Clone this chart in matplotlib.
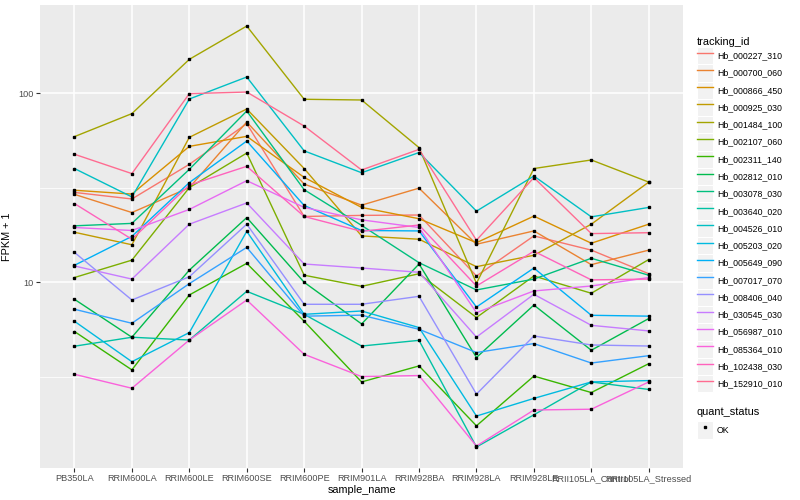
import numpy as np
import matplotlib
matplotlib.use("Agg")
import matplotlib.pyplot as plt
from matplotlib.lines import Line2D
from matplotlib.patches import Rectangle

plt.rcParams['font.family'] = ['Liberation Sans', 'DejaVu Sans']

samples = ['PB350LA', 'RRIM600LA', 'RRIM600LE', 'RRIM600SE', 'RRIM600PE', 'RRIM901LA',
           'RRIM928BA', 'RRIM928LA', 'RRIM928LE', 'RRII105LA_Control', 'RRII105LA_Stressed']

tracking_ids = ['Hb_000227_310', 'Hb_000700_060', 'Hb_000866_450', 'Hb_000925_030',
                'Hb_001484_100', 'Hb_002107_060', 'Hb_002311_140', 'Hb_002812_010',
                'Hb_003078_030', 'Hb_003640_020', 'Hb_004526_010', 'Hb_005203_020',
                'Hb_005649_090', 'Hb_007017_070', 'Hb_008406_040', 'Hb_030545_030',
                'Hb_056987_010', 'Hb_085364_010', 'Hb_102438_030', 'Hb_152910_010']

# ggplot default hue palette for 20 levels
colors = ['#F8766D', '#EA8331', '#D89000', '#C09B00', '#A3A500', '#7CAE00', '#39B600',
          '#00BB4E', '#00BF7D', '#00C1A3', '#00BFC4', '#00BAE0', '#00B0F6', '#35A2FF',
          '#9590FF', '#C77CFF', '#E76BF3', '#FA62DB', '#FF62BC', '#FF6C91']

# FPKM + 1, one list per tracking id, in sample order
hb_000227_310 = [29.9, 27.6, 42.1, 69.1, 22.3, 22.6, 22.7, 10.8, 17.6, 14.8, 11.1]
hb_000700_060 = [29.2, 23.4, 31.7, 70.5, 33.1, 25.6, 31.5, 15.9, 18.7, 12.4, 14.8]
hb_000866_450 = [30.7, 29.3, 52.4, 59.2, 35.9, 24.9, 21.7, 16.2, 22.4, 16.1, 20.3]
hb_000925_030 = [18.4, 15.8, 58.5, 82.6, 40.0, 17.6, 16.9, 12.1, 13.9, 20.3, 33.9]
hb_001484_100 = [59.0, 78.1, 151.3, 227.0, 93.0, 92.2, 51.6, 9.88, 40.0, 44.4, 33.9]
hb_002107_060 = [10.6, 13.1, 31.7, 48.3, 10.9, 9.52, 11.1, 6.51, 10.8, 8.75, 13.2]
hb_002311_140 = [5.49, 3.44, 8.57, 12.6, 6.22, 2.97, 3.61, 1.74, 3.19, 2.61, 3.71]
hb_002812_010 = [8.13, 5.12, 11.6, 22.0, 10.0, 6.02, 12.5, 4.00, 7.58, 4.37, 6.43]
hb_003078_030 = [19.9, 20.5, 39.6, 80.6, 30.9, 20.0, 12.7, 9.11, 10.4, 13.4, 10.9]
hb_003640_020 = [4.59, 5.12, 4.95, 8.96, 6.77, 4.60, 4.93, 1.345, 1.99, 2.97, 2.71]
hb_004526_010 = [40.0, 28.3, 93.3, 122.0, 49.6, 38.0, 48.6, 23.8, 36.5, 22.2, 24.9]
hb_005203_020 = [6.22, 3.80, 5.42, 18.6, 6.77, 7.05, 5.76, 1.96, 2.43, 2.97, 3.02]
hb_005649_090 = [12.3, 17.5, 33.7, 55.9, 25.5, 18.8, 18.7, 7.40, 11.9, 6.69, 6.62]
hb_007017_070 = [7.20, 6.07, 9.84, 15.3, 6.62, 6.70, 5.64, 4.25, 4.74, 3.74, 4.09]
hb_008406_040 = [14.4, 8.06, 10.7, 20.3, 7.65, 7.65, 8.43, 2.56, 5.20, 4.66, 4.60]
hb_030545_030 = [12.2, 10.4, 20.3, 26.3, 12.5, 11.9, 11.3, 5.13, 8.64, 5.92, 5.53]
hb_056987_010 = [19.5, 18.8, 24.3, 34.5, 24.9, 21.4, 19.5, 6.91, 9.00, 9.56, 10.6]
hb_085364_010 = [3.26, 2.75, 4.95, 8.06, 4.16, 3.17, 3.21, 1.36, 2.11, 2.13, 2.97]
hb_102438_030 = [26.1, 16.9, 32.7, 41.1, 22.3, 18.6, 20.1, 9.56, 14.6, 10.3, 10.4]
hb_152910_010 = [47.6, 37.6, 99.6, 101.6, 67.1, 39.3, 50.5, 16.7, 35.8, 18.1, 18.3]

series = [hb_000227_310, hb_000700_060, hb_000866_450, hb_000925_030, hb_001484_100,
          hb_002107_060, hb_002311_140, hb_002812_010, hb_003078_030, hb_003640_020,
          hb_004526_010, hb_005203_020, hb_005649_090, hb_007017_070, hb_008406_040,
          hb_030545_030, hb_056987_010, hb_085364_010, hb_102438_030, hb_152910_010]

fig = plt.figure(figsize=(8, 5), dpi=100)
ax = fig.add_axes([0.05, 0.064, 0.804, 0.926])
ax.set_facecolor('#EBEBEB')
for s in ax.spines.values():
    s.set_visible(False)

x = np.arange(len(samples))
for vals, c in zip(series, colors):
    ax.plot(x, vals, color=c, lw=1.0, zorder=3)
for vals in series:
    ax.plot(x, vals, ls='none', marker='s', ms=2.1, color='black', zorder=4)

ax.set_yscale('log')
logs = np.log10(np.concatenate(series))
lo, hi = logs.min(), logs.max()
pad = 0.05 * (hi - lo)
ax.set_ylim(10 ** (lo - pad), 10 ** (hi + pad))
ax.set_xlim(-0.6, len(samples) - 0.4)

ax.set_yticks([10, 100])
ax.set_yticklabels(['10', '100'])
ax.set_yticks([10 ** 0.5, 10 ** 1.5], minor=True)
ax.yaxis.set_minor_formatter(matplotlib.ticker.NullFormatter())
ax.set_xticks(x)
ax.set_xticklabels(samples)

ax.grid(which='major', color='white', lw=1.1, zorder=0)
ax.grid(which='minor', axis='y', color='white', lw=0.55, zorder=0)
ax.set_axisbelow(True)
ax.tick_params(which='major', length=3, color='#333333', labelsize=6.6, labelcolor='#4D4D4D', pad=1.5)
ax.tick_params(which='minor', length=0)

ax.set_xlabel('sample_name', fontsize=7.8, labelpad=1)
ax.set_ylabel('FPKM + 1', fontsize=7.8)
ax.yaxis.set_label_coords(-0.044, 0.5)

# legends in ggplot style
handles = []
for c in colors:
    bg = Rectangle((0, 0), 1, 1, facecolor='#F2F2F2', edgecolor='white', lw=0.8)
    ln = Line2D([], [], color=c, lw=1.0)
    handles.append((bg, ln))
leg1 = fig.legend(handles, tracking_ids, loc='upper left', bbox_to_anchor=(0.871, 0.926),
                  frameon=False, fontsize=6.3, title='tracking_id', title_fontsize=7.9,
                  handlelength=1.85, handleheight=2.66, labelspacing=0.0,
                  handletextpad=0.45, borderpad=0, borderaxespad=0, alignment='left')

bg = Rectangle((0, 0), 1, 1, facecolor='#F2F2F2', edgecolor='white', lw=0.8)
pt = Line2D([], [], ls='none', marker='s', ms=2.1, color='black')
leg2 = fig.legend([(bg, pt)], ['OK'], loc='upper left', bbox_to_anchor=(0.871, 0.186),
                  frameon=False, fontsize=6.3, title='quant_status', title_fontsize=7.9,
                  handlelength=1.85, handleheight=2.66, handletextpad=0.45,
                  borderpad=0, borderaxespad=0, alignment='left')

fig.savefig('out.png', dpi=100)
